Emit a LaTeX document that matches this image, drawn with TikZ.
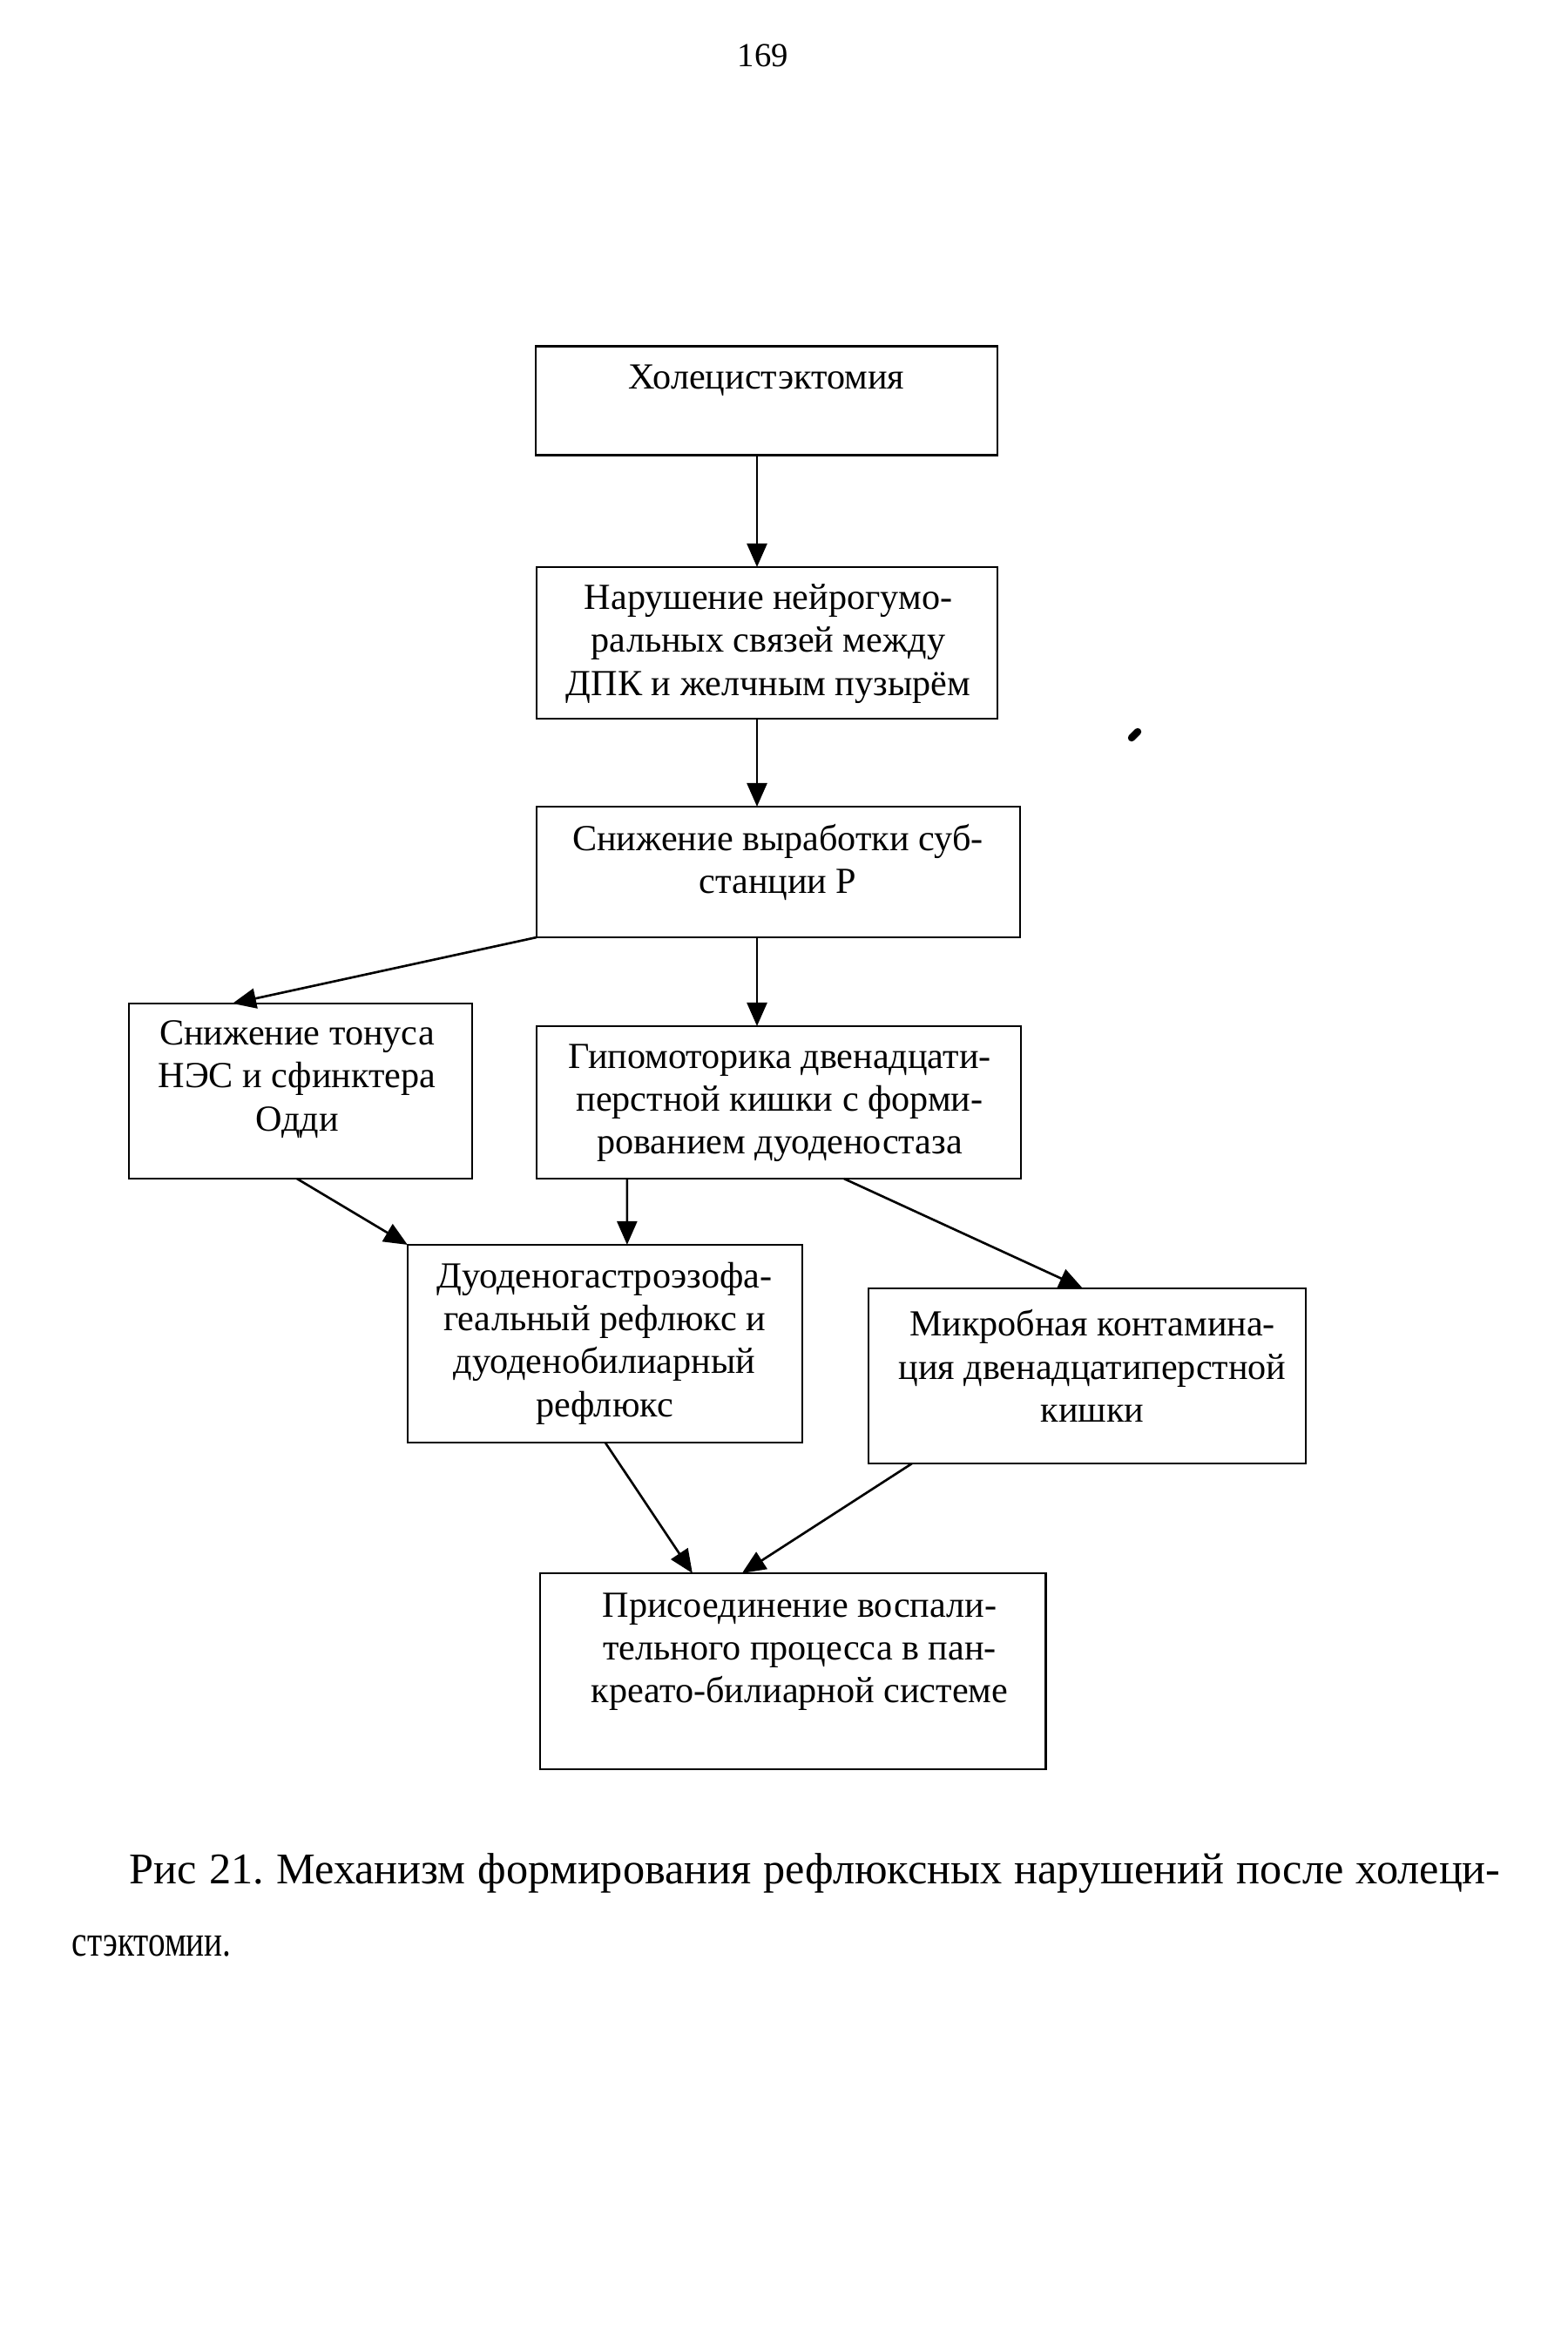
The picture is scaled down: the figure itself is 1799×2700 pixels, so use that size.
\documentclass[tikz,border=0pt]{standalone}
\usepackage{fontspec}
\usepackage{graphicx}
\setmainfont{Liberation Serif}
\usetikzlibrary{arrows.meta,calc}
\tikzset{
  box/.style={draw, line width=0.75pt, rectangle, inner sep=0pt, outer sep=0pt},
  txt/.style={align=center, inner sep=0pt, font=\fontsize{12}{14}\selectfont},
  arr/.style={line width=0.75pt, -{Triangle[length=0.27cm,width=0.23cm]}},
  captxt/.style={anchor=base west, inner sep=0pt, font=\fontsize{14.3}{16}\selectfont}
}
\begin{document}
\frenchspacing
\begin{tikzpicture}[x=0.01cm,y=-0.01cm]
\useasboundingbox (0,0) rectangle (1799,2700);
\node[font=\fontsize{11}{13}\selectfont] (pg) at (876,64) {169};
% boxes
\node[box, minimum width=5.30cm, minimum height=1.25cm] (b1) at (880,460) {};
\node[box, minimum width=5.29cm, minimum height=1.74cm] (b2) at (880.5,738) {};
\node[box, minimum width=5.55cm, minimum height=1.50cm] (b3) at (893.5,1001) {};
\node[box, minimum width=3.94cm, minimum height=2.01cm] (b4) at (345,1252.5) {};
\node[box, minimum width=5.56cm, minimum height=1.75cm] (b5) at (894,1265.5) {};
\node[box, minimum width=4.53cm, minimum height=2.27cm] (b6) at (694.5,1542.5) {};
\node[box, minimum width=5.02cm, minimum height=2.01cm] (b7) at (1248,1579.5) {};
\node[box, minimum width=5.80cm, minimum height=2.25cm] (b8) at (910,1918.5) {};
% texts
\node[txt] (t1) at (880,437) {Холецистэктомия};
\node[txt] (t2) at (882,739) {Нарушение нейрогумо-\\ральных связей между\\ДПК и желчным пузырём};
\node[txt] (t3) at (893,990) {Снижение выработки суб-\\станции Р};
\node[txt] (t4) at (341,1239) {Снижение тонуса\\НЭС и сфинктера\\Одди};
\node[txt] (t5) at (895,1266) {Гипомоторика двенадцати-\\перстной кишки с форми-\\рованием дуоденостаза};
\node[txt] (t6) at (694,1542) {Дуоденогастроэзофа-\\геальный рефлюкс и\\дуоденобилиарный\\рефлюкс};
\node[txt] (t7) at (1254,1568) {Микробная контамина-\\ция двенадцатиперстной\\кишки};
\node[txt] (t8) at (918,1896) {Присоединение воспали-\\тельного процесса в пан-\\креато-билиарной системе};
% arrows
\draw[arr] ($(b1.south)+(-11,0)$) -- ($(b2.north)+(-11.5,0)$);
\draw[arr] ($(b2.south)+(-11.5,0)$) -- ($(b3.north)+(-24.5,0)$);
\draw[arr] (b3.south west) -- ($(b4.north west)+(119,0)$);
\draw[arr] ($(b3.south)+(-24.5,0)$) -- ($(b5.north)+(-25,0)$);
\draw[arr] ($(b4.south west)+(193,0)$) -- (b6.north west);
\draw[arr] ($(b5.south west)+(104,0)$) -- ($(b6.north west)+(252,0)$);
\draw[arr] ($(b5.south west)+(353,0)$) -- ($(b7.north west)+(246,0)$);
\draw[arr] ($(b6.south west)+(227,0)$) -- ($(b8.north west)+(175,0)$);
\draw[arr] ($(b7.south west)+(50,0)$) -- ($(b8.north west)+(232,0)$);
% stray mark
\draw[line width=2.4pt, line cap=round] (1299,847) -- (1306,840);
% caption
\node[captxt] (cap1) at (148,2162)
  {\makebox[15.73cm][s]{Рис 21. Механизм формирования рефлюксных нарушений после холеци-}};
\node[captxt] (cap2) at (82,2245) {\scalebox{0.78}[1]{стэктомии.}};
\end{tikzpicture}
\end{document}
